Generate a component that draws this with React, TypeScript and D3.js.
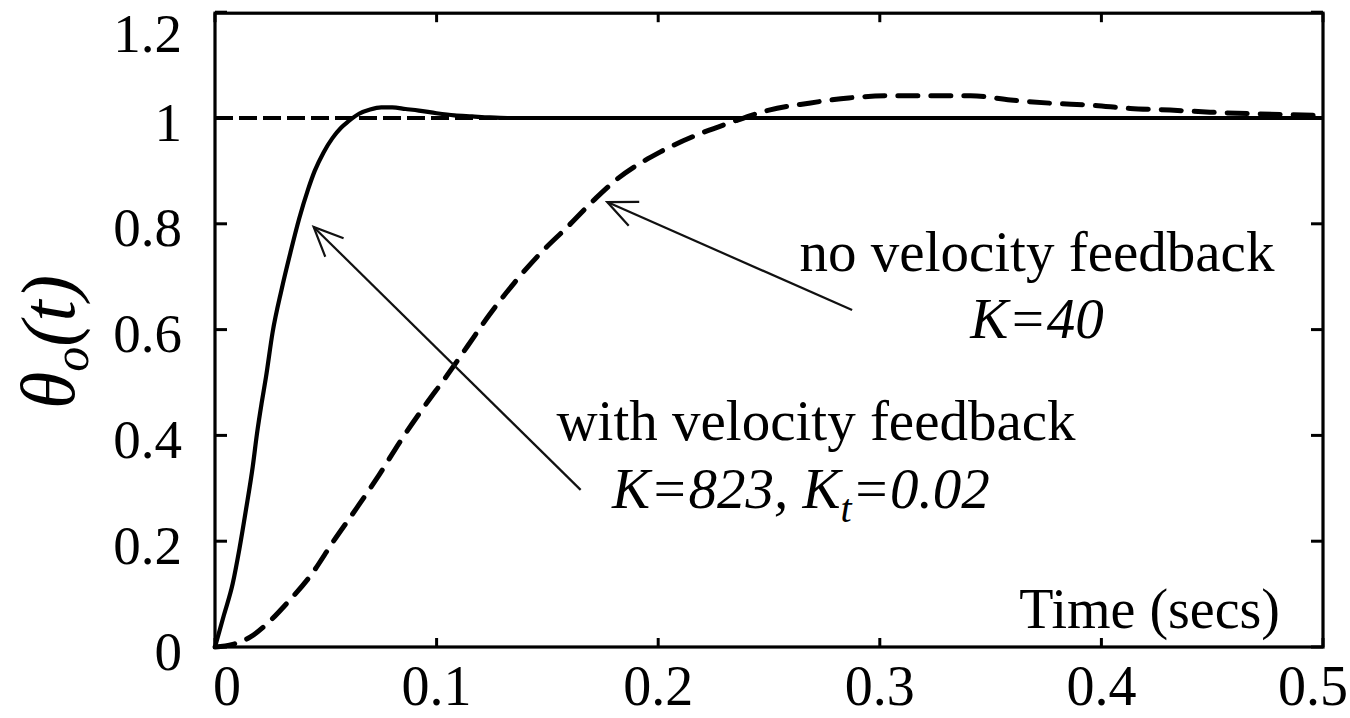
import * as d3 from 'd3';

// step response, with velocity feedback (K=823, Kt=0.02)
const fbTime = [0, 0.004, 0.008, 0.011, 0.014, 0.017, 0.019, 0.021, 0.023, 0.026, 0.03, 0.034, 0.038, 0.042, 0.045, 0.049, 0.053, 0.057, 0.06, 0.065, 0.07, 0.075, 0.08, 0.086, 0.092, 0.1, 0.108, 0.116, 0.124, 0.132, 0.15, 0.2, 0.3, 0.4, 0.5];
const fbValue = [0, 0.06, 0.12, 0.185, 0.26, 0.34, 0.405, 0.46, 0.51, 0.595, 0.675, 0.745, 0.81, 0.865, 0.9, 0.935, 0.962, 0.982, 0.993, 1.008, 1.016, 1.02, 1.02, 1.017, 1.014, 1.009, 1.005, 1.003, 1.001, 1.0, 1.0, 1.0, 1.0, 1.0, 1.0];

// step response, no velocity feedback (K=40)
const noFbTime = [0, 0.008, 0.016, 0.025, 0.0325, 0.044, 0.053, 0.064, 0.074, 0.0835, 0.094, 0.105, 0.114, 0.124, 0.135, 0.147, 0.159, 0.172, 0.181, 0.201, 0.2175, 0.233, 0.25, 0.268, 0.286, 0.305, 0.322, 0.341, 0.359, 0.377, 0.396, 0.413, 0.431, 0.449, 0.468, 0.486, 0.5];
const noFbValue = [0, 0.005, 0.019, 0.05, 0.083, 0.14, 0.197, 0.263, 0.325, 0.388, 0.452, 0.515, 0.569, 0.629, 0.688, 0.745, 0.794, 0.849, 0.883, 0.936, 0.968, 0.992, 1.015, 1.028, 1.038, 1.042, 1.042, 1.042, 1.034, 1.028, 1.024, 1.018, 1.015, 1.011, 1.008, 1.006, 1.005];

const stepLevel = 1;

const xTicks = [0, 0.1, 0.2, 0.3, 0.4, 0.5];
const xTickLabels = ['0', '0.1', '0.2', '0.3', '0.4', '0.5'];
const yTicks = [0, 0.2, 0.4, 0.6, 0.8, 1, 1.2];
const yTickLabels = ['0', '0.2', '0.4', '0.6', '0.8', '1', '1.2'];

// arrows: [tailT, tailV, tipT, tipV]
const arrowFb = [0.165, 0.297, 0.0445, 0.794];
const arrowNoFb = [0.2875, 0.637, 0.177, 0.841];

const W = 1350;
const H = 718;
const left = 215;
const right = 1323;
const bottom = 647;
const top = 12.2;
const serif = '"Liberation Serif", "Times New Roman", serif';

function Arrow({ a, x, y }: { a: number[]; x: any; y: any }) {
  const x1 = x(a[0]);
  const y1 = y(a[1]);
  const x2 = x(a[2]);
  const y2 = y(a[3]);
  const ang = Math.atan2(y1 - y2, x1 - x2);
  const len = 32;
  const spread = 0.42;
  const h1 = [x2 + len * Math.cos(ang + spread), y2 + len * Math.sin(ang + spread)];
  const h2 = [x2 + len * Math.cos(ang - spread), y2 + len * Math.sin(ang - spread)];
  return (
    <g stroke="#111" strokeWidth={2.2} fill="none">
      <line x1={x1} y1={y1} x2={x2} y2={y2} />
      <polyline points={`${h1[0]},${h1[1]} ${x2},${y2} ${h2[0]},${h2[1]}`} />
    </g>
  );
}

export default function App() {
  const x = d3.scaleLinear().domain([0, 0.5]).range([left, right]);
  const y = d3.scaleLinear().domain([0, 1.2]).range([bottom, top]);

  const line = d3
    .line<[number, number]>()
    .x((d) => x(d[0]))
    .y((d) => y(d[1]))
    .curve(d3.curveMonotoneX);

  const fbPath = line(fbTime.map((t, i) => [t, fbValue[i]] as [number, number])) || '';
  const noFbPath = line(noFbTime.map((t, i) => [t, noFbValue[i]] as [number, number])) || '';

  return (
    <svg
      width={W}
      height={H}
      style={{ position: 'absolute', left: 0, top: 0, background: '#fff' }}
      fontFamily={serif}
    >
      {/* curves */}
      <path d={fbPath} fill="none" stroke="#000" strokeWidth={4.2} strokeLinejoin="round" />
      <path
        d={noFbPath}
        fill="none"
        stroke="#000"
        strokeWidth={5}
        strokeDasharray="20,13"
        strokeLinecap="round"
      />
      <line
        x1={x(0)}
        x2={x(0.5)}
        y1={y(stepLevel)}
        y2={y(stepLevel)}
        stroke="#000"
        strokeWidth={4}
        strokeDasharray="18,6"
      />

      {/* frame */}
      <rect x={left} y={top + 1} width={right - left} height={bottom - top - 1} fill="none" stroke="#000" strokeWidth={3.2} />

      {/* y ticks */}
      {yTicks.map((v, i) => (
        <g key={'y' + i}>
          <line x1={left} x2={left + 12} y1={y(v)} y2={y(v)} stroke="#000" strokeWidth={3} />
          <line x1={right} x2={right - 12} y1={y(v)} y2={y(v)} stroke="#000" strokeWidth={3} />
          <text
            x={182}
            y={Math.max(y(v) + 4, 33)}
            textAnchor="end"
            dominantBaseline="central"
            fontSize={55}
            fill="#000"
          >
            {yTickLabels[i]}
          </text>
        </g>
      ))}

      {/* x ticks */}
      {xTicks.map((v, i) => (
        <g key={'x' + i}>
          <line x1={x(v)} x2={x(v)} y1={bottom} y2={bottom - 9} stroke="#000" strokeWidth={3} />
          <line x1={x(v)} x2={x(v)} y1={top + 1} y2={top + 10} stroke="#000" strokeWidth={3} />
          <text
            x={Math.min(Math.max(x(v), 227), 1313)}
            y={705}
            textAnchor="middle"
            fontSize={56}
            fill="#000"
          >
            {xTickLabels[i]}
          </text>
        </g>
      ))}

      <text x={1280} y={628} textAnchor="end" fontSize={56} fill="#000">
        Time (secs)
      </text>

      {/* y axis label */}
      <text
        transform="translate(74,342) rotate(-90)"
        textAnchor="middle"
        fontSize={76}
        fontStyle="italic"
        fill="#000"
      >
        θ<tspan fontSize={50} dy={14}>o</tspan>
        <tspan dy={-14}>(t)</tspan>
      </text>

      {/* annotations */}
      <Arrow a={arrowFb} x={x} y={y} />
      <Arrow a={arrowNoFb} x={x} y={y} />

      <text x={1037} y={271} textAnchor="middle" fontSize={57} fill="#000">
        no velocity feedback
      </text>
      <text x={1037} y={338} textAnchor="middle" fontSize={57} fontStyle="italic" fill="#000">
        K=40
      </text>
      <text x={816} y={440} textAnchor="middle" fontSize={57} fill="#000">
        with velocity feedback
      </text>
      <text x={612} y={508} fontSize={57} fontStyle="italic" fill="#000">
        K=823, K<tspan fontSize={40} dy={14}>t</tspan>
        <tspan dy={-14}>=0.02</tspan>
      </text>
    </svg>
  );
}
